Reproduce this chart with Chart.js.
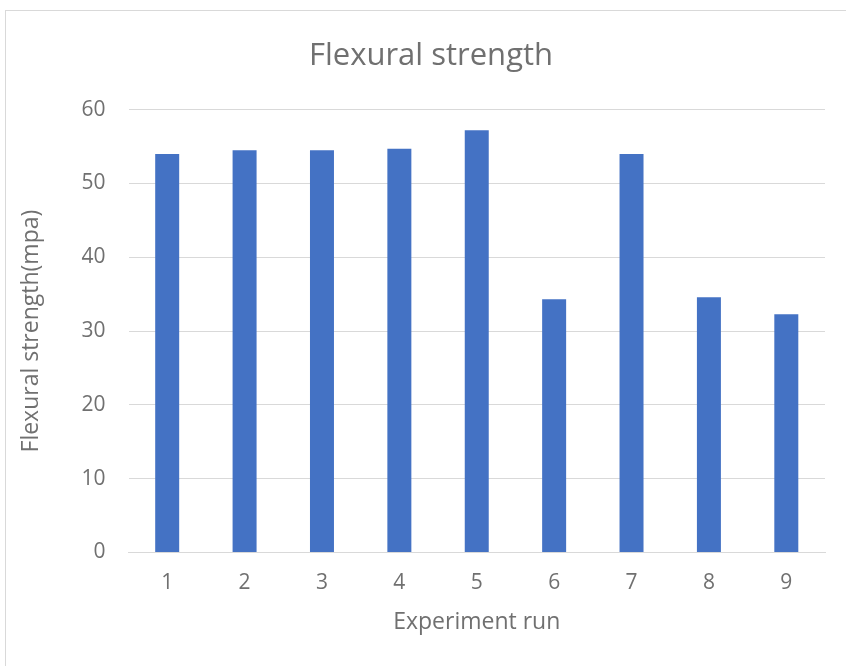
<!DOCTYPE html>
<html>
<head>
<meta charset="utf-8">
<script src="https://cdn.jsdelivr.net/npm/chart.js@4"></script>
<style>
  html, body { margin: 0; padding: 0; background: #ffffff; overflow: hidden; }
  #frame {
    position: absolute; left: 5px; top: 10px;
    width: 900px; height: 700px;
    border: 1px solid #d9d9d9; box-sizing: border-box;
  }
  #chart { position: absolute; left: 0; top: 0; display: block; }
</style>
</head>
<body>
<div id="frame"></div>
<canvas id="chart" width="846" height="666"></canvas>
<script>
// Flexural strength per experiment run
const runs = ['1', '2', '3', '4', '5', '6', '7', '8', '9'];
const flexuralStrength = [54.0, 54.5, 54.5, 54.7, 57.2, 34.3, 54.0, 34.6, 32.3];
const yTicks = [0, 10, 20, 30, 40, 50, 60];

const textColor = '#707070';
const fontFamily = '"Open Sans", "Noto Sans", sans-serif';

new Chart(document.getElementById('chart'), {
  type: 'bar',
  data: {
    labels: runs,
    datasets: [{
      label: 'Flexural strength',
      data: flexuralStrength,
      backgroundColor: '#4472c4',
      borderWidth: 0,
      categoryPercentage: 1.0,
      barPercentage: 0.31
    }]
  },
  options: {
    responsive: false,
    animation: false,
    layout: { padding: { top: 0, right: 21, bottom: 0, left: 37 } },
    plugins: {
      legend: { display: false },
      tooltip: { enabled: false },
      title: {
        display: true,
        text: 'Flexural strength',
        color: textColor,
        font: { family: fontFamily, size: 31, weight: 'normal', lineHeight: 1.2 },
        padding: { top: 37.5, bottom: 35 }
      }
    },
    scales: {
      x: {
        grid: { display: false, drawTicks: false },
        border: { display: true, color: '#d9d9d9', width: 1 },
        ticks: { color: textColor, font: { family: fontFamily, size: 21 }, padding: 18 },
        title: {
          display: true,
          text: 'Experiment run',
          color: textColor,
          font: { family: fontFamily, size: 23, lineHeight: 1.2 },
          padding: { top: 0, bottom: 30 }
        },
        afterFit: (scale) => { scale.height = 113.5; }
      },
      y: {
        min: 0,
        max: 60,
        afterBuildTicks: (scale) => { scale.ticks = yTicks.map(v => ({ value: v })); },
        grid: { color: '#d9d9d9', lineWidth: 1, drawTicks: false },
        border: { display: false },
        ticks: { color: textColor, font: { family: fontFamily, size: 21 }, padding: 23 },
        title: {
          display: true,
          text: 'Flexural strength(mpa)',
          color: textColor,
          font: { family: fontFamily, size: 23, lineHeight: 1.2 },
          padding: { top: -19, bottom: 0 }
        },
        afterFit: (scale) => { scale.width = 91.5; }
      }
    }
  }
});
</script>
</body>
</html>
